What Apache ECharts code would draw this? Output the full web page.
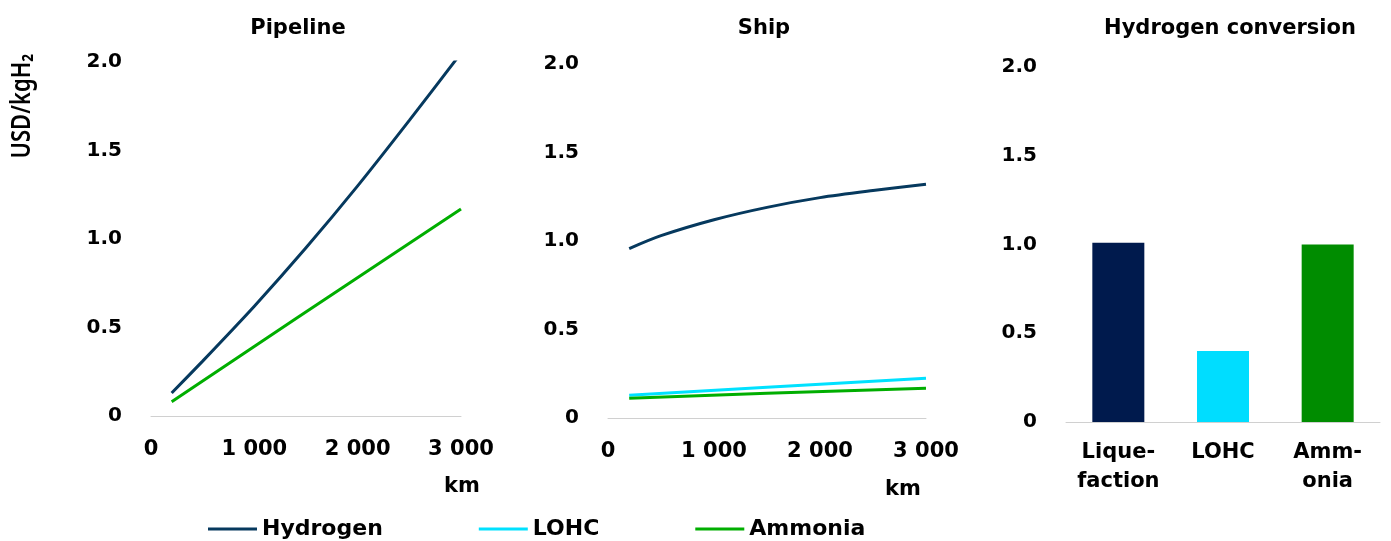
<!DOCTYPE html>
<html>
<head>
<meta charset="utf-8">
<script src="https://cdn.jsdelivr.net/npm/echarts@6/dist/echarts.min.js"></script>
<style>
html,body{margin:0;padding:0;background:#fff;}
#chart{width:1391px;height:541px;}
</style>
</head>
<body>
<div id="chart"></div>
<script>
// ---- data ----
const panelTitles = ['Pipeline', 'Ship', 'Hydrogen conversion'];
const seriesNames = ['Hydrogen', 'LOHC', 'Ammonia'];
const distanceKm = [200, 500, 1000, 1500, 2000, 2500, 3000];
const pipelineHydrogen = [0.13, 0.31, 0.62, 0.95, 1.30, 1.67, 2.05];
const pipelineAmmoniaKm = [200, 1400, 3000];
const pipelineAmmonia = [0.08, 0.55, 1.17];
const shipHydrogen = [0.957, 1.03, 1.12, 1.19, 1.245, 1.285, 1.32];
const shipSparseKm = [200, 1500, 3000];
const shipLOHC = [0.128, 0.174, 0.225];
const shipAmmonia = [0.111, 0.14, 0.168];
const conversionCategories = ['Lique-\nfaction', 'LOHC', 'Amm-\nonia'];
const conversionValues = [1.01, 0.40, 1.00];
const yTickLabels = ['0', '0.5', '1.0', '1.5', '2.0'];
const kmTickLabels = ['0', '1 000', '2 000', '3 000'];
const yAxisName = 'USD/kgH\u2082';
const xAxisName = 'km';

// ---- styles ----
const FONT = 'DejaVu Sans';
const colHydrogen = '#06395E';
const colLOHC = '#00E1FF';
const colAmmonia = '#00AE00';
const barColors = ['#001A4D', '#00DDFF', '#008C00'];

const pairs = (xs, ys) => xs.map((x, i) => [x, ys[i]]);

const chart = echarts.init(document.getElementById('chart'));

const yAxisBase = (gi) => ({
  type: 'value', gridIndex: gi, min: 0, max: 2, interval: 0.5,
  axisLine: {show: false}, axisTick: {show: false}, splitLine: {show: false},
  axisLabel: {
    margin: 29, color: '#000', fontFamily: FONT, fontWeight: 'bold', fontSize: 20,
    formatter: (v) => yTickLabels[Math.round(v / 0.5)]
  }
});
const xValueAxis = (gi, nameGap, namePad) => ({
  type: 'value', gridIndex: gi, min: 0, max: 3000, interval: 1000,
  axisLine: {show: true, onZero: false, lineStyle: {color: '#D0D0D0', width: 1}},
  axisTick: {show: false}, splitLine: {show: false},
  axisLabel: {
    margin: 23, color: '#000', fontFamily: FONT, fontWeight: 'bold', fontSize: 21,
    formatter: (v) => kmTickLabels[Math.round(v / 1000)]
  },
  name: xAxisName, nameLocation: 'end', nameGap: nameGap,
  nameTextStyle: {color: '#000', fontFamily: FONT, fontWeight: 'bold', fontSize: 21,
    align: 'center', verticalAlign: 'top', padding: [namePad, 0, 0, 0]}
});

const lineSeries = (name, xi, data, color, smooth) => ({
  type: 'line', name: name, xAxisIndex: xi, yAxisIndex: xi,
  data: data, showSymbol: false, symbol: 'none', smooth: smooth,
  lineStyle: {color: color, width: 3}, itemStyle: {color: color},
  clip: true, animation: false
});

const titleCenters = [293, 759, 1225];

const option = {
  backgroundColor: '#fff',
  animation: false,
  title: panelTitles.map((t, i) => ({
    text: t, left: titleCenters[i], top: 13, textAlign: 'center',
    textStyle: {fontFamily: FONT, fontWeight: 'bold', fontSize: 21, color: '#000'}
  })),
  grid: [
    {left: 151, top: 62, width: 310, height: 354},
    {left: 608, top: 64, width: 318, height: 354},
    {left: 1066, top: 67, width: 314, height: 355}
  ],
  xAxis: [
    xValueAxis(0, 1, 60),
    xValueAxis(1, -23, 61),
    {
      type: 'category', gridIndex: 2, data: conversionCategories,
      axisLine: {show: true, lineStyle: {color: '#D0D0D0', width: 1}},
      axisTick: {show: false},
      axisLabel: {margin: 16, interval: 0, color: '#000', fontFamily: FONT, fontWeight: 'bold',
        fontSize: 21, lineHeight: 29}
    }
  ],
  yAxis: [yAxisBase(0), yAxisBase(1), yAxisBase(2)],
  legend: {
    data: seriesNames, left: 203, top: 513, itemWidth: 49, itemHeight: 3, itemGap: 96,
    icon: 'rect',
    textStyle: {fontFamily: FONT, fontWeight: 'bold', fontSize: 22, color: '#000'}
  },
  graphic: [{
    type: 'text', x: 22, y: 106, rotation: Math.PI / 2, scaleY: 1.2,
    style: {text: yAxisName, fill: '#000', font: '600 22px "Noto Sans"', align: 'center', verticalAlign: 'middle'}
  }],
  series: [
    lineSeries('Hydrogen', 0, pairs(distanceKm, pipelineHydrogen), colHydrogen, 0.2),
    lineSeries('Ammonia', 0, pairs(pipelineAmmoniaKm, pipelineAmmonia), colAmmonia, false),
    lineSeries('Hydrogen', 1, pairs(distanceKm, shipHydrogen), colHydrogen, 0.3),
    lineSeries('LOHC', 1, pairs(shipSparseKm, shipLOHC), colLOHC, false),
    lineSeries('Ammonia', 1, pairs(shipSparseKm, shipAmmonia), colAmmonia, false),
    {
      type: 'bar', name: 'Hydrogen conversion', xAxisIndex: 2, yAxisIndex: 2,
      barWidth: 52,
      data: conversionValues.map((v, i) => ({value: v, itemStyle: {color: barColors[i]}})),
      animation: false
    }
  ]
};
chart.setOption(option);
</script>
</body>
</html>
